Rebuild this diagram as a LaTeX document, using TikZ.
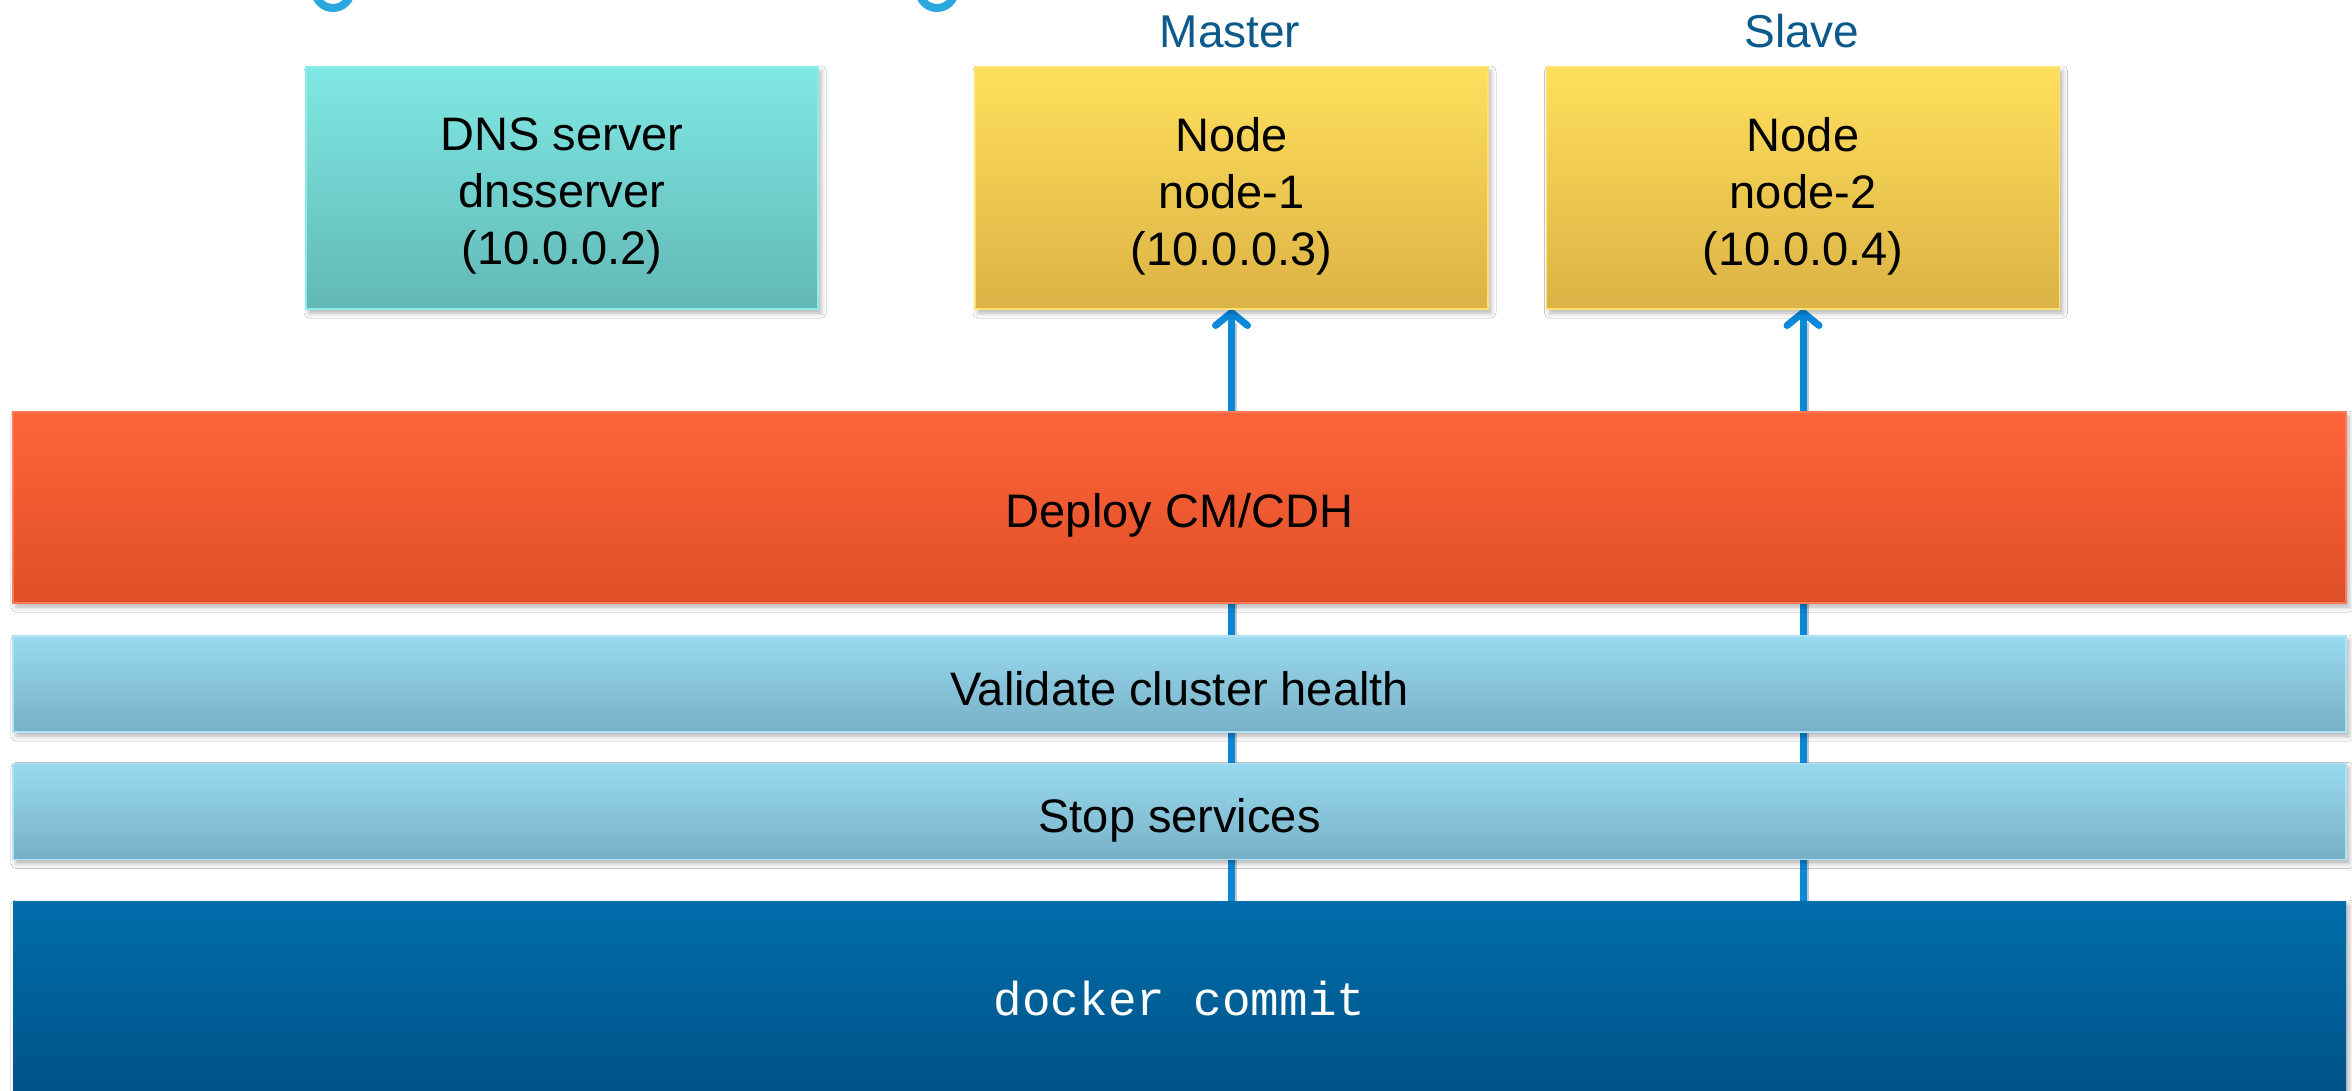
\documentclass[tikz,border=0pt]{standalone}
\usepackage{fontspec}
\setmainfont{Liberation Sans}
\newfontfamily\codefont{Liberation Mono}
\usetikzlibrary{shadows.blur,arrows.meta,backgrounds}
\definecolor{dnsTop}{HTML}{80E8E4}
\definecolor{dnsBot}{HTML}{62B8B6}
\definecolor{dnsEdge}{HTML}{8AEDEA}
\definecolor{ylTop}{HTML}{FFDF5C}
\definecolor{ylBot}{HTML}{DBB245}
\definecolor{ylEdge}{HTML}{FFE270}
\definecolor{orTop}{HTML}{FF643A}
\definecolor{orBot}{HTML}{DE4F28}
\definecolor{orEdge}{HTML}{FF7A55}
\definecolor{lbTop}{HTML}{99DAF0}
\definecolor{lbBot}{HTML}{77B0C6}
\definecolor{lbEdge}{HTML}{AEE2F4}
\definecolor{dbTop}{HTML}{006EAB}
\definecolor{dbBot}{HTML}{005286}
\definecolor{arrowBlue}{HTML}{0A88DA}
\definecolor{labelBlue}{HTML}{0C5A8C}
\definecolor{titleBlue}{HTML}{29A8E0}
\tikzset{
  sh/.style={blur shadow={shadow xshift=3pt, shadow yshift=-4pt, shadow blur radius=5pt, shadow opacity=30}},
  plate/.style={rectangle, inner sep=0pt, outer sep=0pt, line width=1.5pt, sh},
  dnsbox/.style={plate, draw=dnsEdge, top color=dnsTop, bottom color=dnsBot, minimum width=512pt, minimum height=242pt},
  hostbox/.style={plate, draw=ylEdge, top color=ylTop, bottom color=ylBot, minimum width=513pt, minimum height=242pt},
  orbar/.style={plate, draw=orEdge, top color=orTop, bottom color=orBot, minimum width=2333pt, minimum height=191pt},
  lbbar/.style={plate, draw=lbEdge, top color=lbTop, bottom color=lbBot, minimum width=2333pt, minimum height=96pt},
  dbbar/.style={plate, draw=none, top color=dbTop, bottom color=dbBot, minimum width=2333pt, minimum height=196pt},
  boxtext/.style={align=center, inner sep=0pt, font=\fontsize{47}{57}\selectfont},
  bartext/.style={inner sep=0pt, anchor=base, font=\fontsize{47}{57}\selectfont},
  roletext/.style={inner sep=0pt, anchor=base, text=labelBlue, font=\fontsize{46}{55}\selectfont},
  flow/.style={draw=arrowBlue, line width=7pt, -{Straight Barb[length=13pt, width=32pt, round]}},
  flowshadow/.style={draw=black, opacity=0.22, line width=7pt}
}
\begin{document}
\begin{tikzpicture}[x=1pt,y=-1pt]
\useasboundingbox (0,0) rectangle (2352,1091);
\clip (0,0) rectangle (2352,1091);
% cut-off title fragments
\draw[titleBlue, line width=8pt] (333,-10) circle (18);
\draw[titleBlue, line width=8pt] (937,-10) circle (18);
% role labels
\node[roletext] (master) at (1230,48) {Master};
\node[roletext] (slave) at (1802,48) {Slave};
% top boxes
\node[dnsbox] (dns) at (562,188) {};
\node[boxtext] (dnsT) at ([yshift=-8pt]dns.center) {DNS server\\dnsserver\\(10.0.0.2)};
\node[hostbox] (n1) at (1231.5,188) {};
\node[boxtext] (n1T) at ([yshift=-8pt]n1.center) {Node\\node-1\\(10.0.0.3)};
\node[hostbox] (n2) at (1803,188) {};
\node[boxtext] (n2T) at ([yshift=-8pt]n2.center) {Node\\node-2\\(10.0.0.4)};
% bars
\node[orbar] (deploy) at (1179.5,507.5) {};
\node[bartext] (deployT) at (1179.5,527) {Deploy CM/CDH};
\node[lbbar] (validate) at (1179.5,684) {};
\node[bartext] (validateT) at (1179.5,705) {Validate cluster health};
\node[lbbar] (stop) at (1179.5,811.5) {};
\node[bartext] (stopT) at (1179.5,832) {Stop services};
\node[dbbar] (dock) at (1179.5,999) {};
\node[bartext, text=white, font=\codefont\fontsize{47.6}{57}\selectfont] (dockT) at (1179.5,1015) {docker commit};
% connectors behind the bars
\begin{pgfonlayer}{background}
\fill[white] (0,0) rectangle (2352,1091);
\draw[flowshadow] ([xshift=2pt,yshift=-3pt]dock.north -| n1.south) -- ([xshift=2pt,yshift=-14pt]n1.south);
\draw[flowshadow] ([xshift=2pt,yshift=-3pt]dock.north -| n2.south) -- ([xshift=2pt,yshift=-14pt]n2.south);
\draw[flow] (dock.north -| n1.south) -- (n1.south);
\draw[flow] (dock.north -| n2.south) -- (n2.south);
\end{pgfonlayer}
\end{tikzpicture}
\end{document}
